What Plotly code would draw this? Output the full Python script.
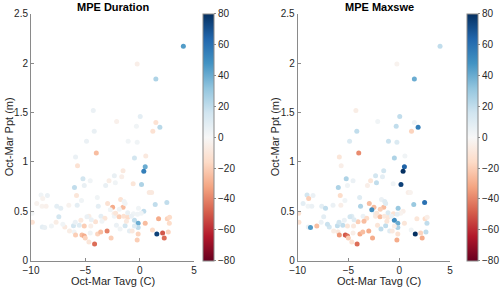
import plotly.graph_objects as go
import plotly.express as px

# Station data: Oct-Mar mean temperature (C), Oct-Mar precipitation (m)
tavg = [4.02, -0.23, 1.49, -4.27, 0.05, -2.12, 1.49, -0.30, 1.86, 1.21, -4.18, -4.89, -1.06, -0.23,
        -3.99, -5.90, -5.72, -5.22, -4.55, -2.82, -6.00, -5.10, -3.13, -5.81, -9.08, -8.92, -9.47, -8.49,
        -8.98, -8.61, -7.63, -7.26, -6.52, -5.75, -5.35, -3.90, -3.81, -2.95, -2.49, -2.70, -9.90, -7.44,
        -9.88, -8.96, -8.74, -8.12, -7.69, -6.89, -6.09, -5.56, -5.41, -4.67, -5.10, -4.06, -3.56, -3.20,
        -6.03, -5.90, -5.31, -5.10, -5.01, -4.67, -4.15, -3.87, -3.59, -3.00, -2.63,
        -7.07, -4.45, -4.50, -3.47, -6.46, -4.55, -4.85, -5.93, -2.36,
        0.51, 0.38, -0.48, 0.56, -1.53, -2.33, -1.65, -2.24, -0.60, 0.17, 0.88, 1.10, -1.75, -1.43,
        -1.53, -1.87, -0.11, 1.43, 2.50, 0.38, -2.33, -1.89, -1.47, -1.10, -0.48, -0.14, 0.51, 1.74,
        2.54, 2.75, 2.73, -2.14, -1.34, -0.94, -0.14, -0.14, -0.23, 1.18, 1.58, 2.11, 2.63, 2.26,
        -1.80, -0.69, -0.48, 0.14, -2.21, -1.10, -0.57, -0.20, -1.22, -0.76, -1.34]
ppt = [2.17, 1.99, 1.84, 1.52, 1.46, 1.41, 1.40, 1.36, 1.35, 1.31, 1.31, 1.21, 1.21, 1.20,
       1.09, 1.05, 0.96, 0.83, 0.81, 0.81, 0.74, 0.76, 0.76, 0.66, 0.665, 0.63, 0.58, 0.66,
       0.55, 0.55, 0.55, 0.53, 0.56, 0.56, 0.61, 0.64, 0.55, 0.58, 0.54, 0.516, 0.48, 0.445,
       0.39, 0.34, 0.335, 0.35, 0.39, 0.34, 0.355, 0.36, 0.41, 0.45, 0.35, 0.395, 0.45, 0.43,
       0.29, 0.26, 0.26, 0.25, 0.23, 0.19, 0.17, 0.27, 0.29, 0.30, 0.23,
       0.37, 0.415, 0.35, 0.40, 0.30, 0.28, 0.445, 0.39, 0.475,
       0.95, 0.905, 1.04, 1.06, 0.91, 0.86, 0.85, 0.79, 0.78, 0.77, 0.69, 0.69, 0.62, 0.60,
       0.54, 0.52, 0.53, 0.57, 0.59, 0.50, 0.45, 0.445, 0.45, 0.44, 0.41, 0.38, 0.38, 0.425,
       0.425, 0.44, 0.38, 0.36, 0.355, 0.30, 0.335, 0.27, 0.21, 0.31, 0.27, 0.28, 0.29, 0.23,
       0.32, 0.30, 0.35, 0.48, 0.48, 0.485, 0.475, 0.47, 0.40, 0.45, 0.58]
# Mean percent error of snow duration and of max SWE
mpe_duration = [45, -5, 25, 5, 8, -4, -12, 3, 22, -12, 6, 5, 3, 3,
                -25, 5, -12, 15, 3, -6, 20, 6, 6, -10, 3, -3, -3, 5,
                -3, -4, 8, 8, -3, 8, 3, 3, 8, -12, -30, 3, 2, 15,
                -12, 8, 6, 3, -6, -8, 15, 10, -8, -6, -20, -12, 8, -10,
                3, -20, -25, -30, -18, -10, -45, -18, -25, -40, -20,
                3, 5, -5, 3, -6, 4, 5, 5, -5,
                40, 55, 15, -8, -8, 6, -5, 3, -10, 25, -8, -8, -12, 3,
                -25, 3, 3, 20, 20, 20, 3, -20, -12, -15, 20, 40, -25, -30,
                -18, -15, -15, 5, 15, 8, 20, -18, -20, -15, 75, -50, -18, -45,
                3, -8, 10, 3, -10, 6, 3, 3, -8, 5, 3]
mpe_maxswe = [20, -3, 40, -6, 20, 3, 3, 20, 55, -18, 20, 12, 18, 12,
              -38, -10, -5, 25, 5, -10, 25, 3, -5, -15, 15, -20, 8, 5,
              3, 5, 8, 20, 5, -5, 3, 10, 25, -25, -25, 50, -12, 8,
              -12, 5, 45, -25, 5, 15, 20, 20, 5, 10, -10, -20, 5, -15,
              -8, -35, -50, -45, -20, -12, -45, -30, -25, -30, -30,
              18, 10, -8, -25, -6, -5, 15, 15, 5,
              65, 80, 25, 3, 15, 15, 8, 20, 3, 75, -5, -3, 5, 10,
              -25, -20, 30, 30, 60, -5, -8, -25, -8, -10, 50, 40, -10, -10,
              -15, -5, 20, -10, 20, 10, 25, -12, -30, 3, 80, -18, 20, -30,
              20, -8, -5, -3, -10, 12, -12, 8, -10, 5, 10]

titles = ["MPE Duration", "MPE Maxswe"]
xticks = [-10, -5, 0, 5]
yticks = [0, 0.5, 1, 1.5, 2, 2.5]
cbar_ticks = [-80, -60, -40, -20, 0, 20, 40, 60, 80]

FONT = "Liberation Sans, Arial, Helvetica, sans-serif"
TXT = "#262626"
AX = "#8a8a8a"
W, H = 500, 290
MR = 50            # right margin (room for the 2nd colorbar labels)
PW = W - MR        # plot-area width in px

def fx(px_):
    return px_ / PW

fig = go.Figure()
fig.add_trace(go.Scatter(x=tavg, y=ppt, mode="markers", xaxis="x", yaxis="y",
                         marker=dict(size=5, color=mpe_duration, coloraxis="coloraxis", line=dict(width=0)),
                         showlegend=False, hoverinfo="skip"))
fig.add_trace(go.Scatter(x=tavg, y=ppt, mode="markers", xaxis="x2", yaxis="y2",
                         marker=dict(size=5, color=mpe_maxswe, coloraxis="coloraxis2", line=dict(width=0)),
                         showlegend=False, hoverinfo="skip"))

y0, y1 = 1 - 260.7 / H, 1 - 13.7 / H
doms = [(fx(31), fx(194)), (fx(297.7), fx(460.7))]
cbx = [fx(203), fx(467)]
doms = [(a, min(b, 1.0)) for a, b in doms]

axcommon = dict(showgrid=False, zeroline=False, showline=True, linecolor=AX, linewidth=1,
                ticks="inside", ticklen=3, tickcolor=AX, tickfont=dict(family=FONT, size=10, color=TXT),
                mirror=False)

centers = [112.5, 379.2]
for i, sfx in enumerate(["", "2"]):
    fig.layout["xaxis" + sfx] = dict(axcommon, domain=list(doms[i]), range=[-10, 5], tickvals=xticks,
                                     anchor="y" + sfx)
    fig.layout["yaxis" + sfx] = dict(axcommon, domain=[y0, y1], range=[0, 2.5], tickvals=yticks,
                                     ticktext=[("%g" % v) for v in yticks], anchor="x" + sfx)
    cx = fx(centers[i])
    fig.add_annotation(text="<b>" + titles[i] + "</b>", x=cx, y=1 - 7 / H, xref="paper", yref="paper",
                       showarrow=False, font=dict(family=FONT, size=11, color="black"),
                       xanchor="center", yanchor="middle")
    fig.add_annotation(text="Oct-Mar Tavg (C)", x=cx, y=1 - 281 / H, xref="paper", yref="paper",
                       showarrow=False, font=dict(family=FONT, size=11, color=TXT),
                       xanchor="center", yanchor="middle")
    fig.add_annotation(text="Oct-Mar Ppt (m)", x=fx([9, 275][i]), y=(y0 + y1) / 2,
                       xref="paper", yref="paper", textangle=-90,
                       showarrow=False, font=dict(family=FONT, size=11, color=TXT),
                       xanchor="center", yanchor="middle")

cs = px.colors.diverging.RdBu
cb = lambda x: dict(x=x, xanchor="left", y=y0, yanchor="bottom", len=y1 - y0, lenmode="fraction",
                    thickness=11, thicknessmode="pixels", outlinewidth=1, outlinecolor=AX,
                    tickvals=cbar_ticks, ticks="outside", ticklen=2, tickcolor=AX,
                    tickfont=dict(family=FONT, size=10, color=TXT), xpad=0, ypad=0)
fig.update_layout(
    width=W, height=H, margin=dict(l=0, r=MR, t=0, b=0, autoexpand=False),
    paper_bgcolor="white", plot_bgcolor="white",
    coloraxis=dict(colorscale=cs, cmin=-80, cmax=80, colorbar=cb(cbx[0])),
    coloraxis2=dict(colorscale=cs, cmin=-80, cmax=80, colorbar=cb(cbx[1])),
)
fig.write_html("out.html", config={"displayModeBar": False, "staticPlot": True},
               post_script="document.documentElement.style.margin='0';document.body.style.margin='0';"
                           "document.body.style.overflow='hidden';")
